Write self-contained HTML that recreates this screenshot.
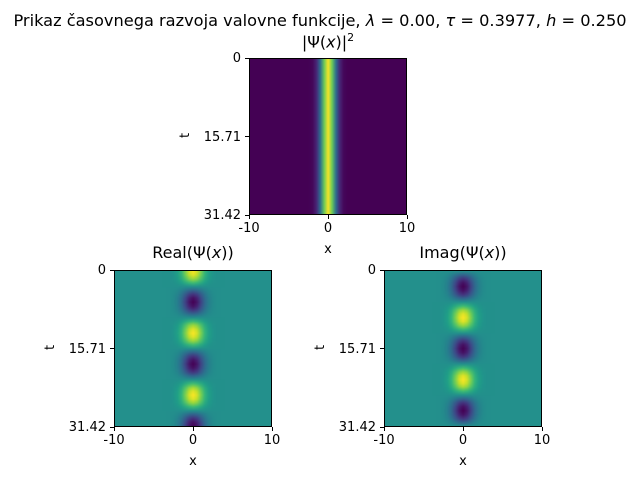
<!DOCTYPE html>
<html><head><meta charset="utf-8"><style>
body{margin:0;background:#fff;width:640px;height:480px;overflow:hidden;position:relative;font-family:"DejaVu Sans","Liberation Sans",sans-serif;color:#000}
.t{position:absolute;white-space:nowrap}
canvas{position:absolute;border:1px solid #000;box-sizing:border-box}
</style></head><body>
<div class="t" style="left:0;width:640px;text-align:center;top:11px;font-size:16.2px">Prikaz časovnega razvoja valovne funkcije, <i>λ</i> = 0.00, <i>τ</i> = 0.3977, <i>h</i> = 0.250</div>
<div id="root"></div>
<script>
// profile along x (x = -10..10 step 0.5)
const xs=[-10,-9.5,-9,-8.5,-8,-7.5,-7,-6.5,-6,-5.5,-5,-4.5,-4,-3.5,-3,-2.5,-2,-1.5,-1,-0.5,0,0.5,1,1.5,2,2.5,3,3.5,4,4.5,5,5.5,6,6.5,7,7.5,8,8.5,9,9.5,10];
const profile=[0,0,0,0,0,0,0,0,0,0,0,0,0,0.002,0.011,0.044,0.135,0.325,0.607,0.882,1,0.882,0.607,0.325,0.135,0.044,0.011,0.002,0,0,0,0,0,0,0,0,0,0,0,0,0];
// time amplitudes at t = k*pi/4, k=0..40
const realAmp=[1,.92,.71,.38,0,-.38,-.71,-.92,-1,-.92,-.71,-.38,0,.38,.71,.92,1,.92,.71,.38,0,-.38,-.71,-.92,-1,-.92,-.71,-.38,0,.38,.71,.92,1,.92,.71,.38,0,-.38,-.71,-.92,-1];
const imagAmp=[0,-.38,-.71,-.92,-1,-.92,-.71,-.38,0,.38,.71,.92,1,.92,.71,.38,0,-.38,-.71,-.92,-1,-.92,-.71,-.38,0,.38,.71,.92,1,.92,.71,.38,0,-.38,-.71,-.92,-1,-.92,-.71,-.38,0];
const xTicks=["-10","0","10"];
const tTicks=["0","15.71","31.42"];
const vir=[[68,1,84],[72,40,120],[62,74,137],[49,104,142],[38,130,142],[31,158,137],[53,183,121],[109,205,89],[180,222,44],[253,231,37]];
function cmap(v){v=Math.max(0,Math.min(1,v))*9;const i=Math.min(8,Math.floor(v)),f=v-i;return vir[i].map((c,k)=>Math.round(c+(vir[i+1][k]-c)*f));}
const root=document.getElementById('root');
function txt(name,s,css){const d=document.createElement('div');d.className='t';d.innerHTML=s;d.style.cssText=css;


root.appendChild(d);}
function panel(key,L,T,W,H,title,fn,vmin,vmax){
 const nR=realAmp.length,nC=xs.length;
 const src=document.createElement('canvas');src.width=nC;src.height=nR;
 const sc=src.getContext('2d');const im=sc.createImageData(nC,nR);
 for(let r=0;r<nR;r++)for(let c=0;c<nC;c++){const v=fn(r,c);const col=cmap((v-vmin)/(vmax-vmin));const p=(r*nC+c)*4;im.data[p]=col[0];im.data[p+1]=col[1];im.data[p+2]=col[2];im.data[p+3]=255;}
 sc.putImageData(im,0,0);
 const cv=document.createElement('canvas');cv.width=W;cv.height=H;cv.style.left=L+'px';cv.style.top=T+'px';cv.style.width=W+'px';cv.style.height=H+'px';
 
 
 const cx=cv.getContext('2d');cx.imageSmoothingEnabled=true;
 const sx=W/(nC-1),sy=H/(nR-1);
 cx.drawImage(src,0,0,nC,nR,-sx/2,-sy/2,W+sx,H+sy);
 root.appendChild(cv);
 txt(key+'-title',title,`left:${L-40}px;width:${W+80}px;text-align:center;top:${T-27}px;font-size:16px`);
 xTicks.forEach((s,i)=>{const x=L+i*W/2;
  const tk=document.createElement('div');tk.style.cssText=`position:absolute;left:${x-0.5}px;top:${T+H}px;width:1px;height:4px;background:#000`;
  
  
  root.appendChild(tk);
  txt(key+'-x-tick-label',s,`left:${x-20}px;width:40px;text-align:center;top:${T+H+6}px;font-size:13px`);});
 tTicks.forEach((s,i)=>{const y=T+i*H/2;
  const tk=document.createElement('div');tk.style.cssText=`position:absolute;left:${L-4}px;top:${y-0.5}px;width:4px;height:1px;background:#000`;
  
  
  root.appendChild(tk);
  txt(key+'-t-tick-label',s,`left:${L-66}px;width:58px;text-align:right;top:${y-7}px;font-size:13px`);});
 txt(key+'-x-axis-title','x',`left:${L+W/2-10}px;width:20px;text-align:center;top:${T+H+27}px;font-size:13px`);
 txt(key+'-t-axis-title','t',`left:${L-66}px;top:${T+H/2-9}px;font-size:13px;transform:rotate(-90deg)`);
}
panel('prob',249,58,158,157,'|Ψ(<i>x</i>)|<sup style="font-size:11px">2</sup>',(r,c)=>profile[c]*profile[c],0,1);
panel('real',114,270,158,157,'Real(Ψ(<i>x</i>))',(r,c)=>realAmp[r]*profile[c],-1,1);
panel('imag',384,270,158,157,'Imag(Ψ(<i>x</i>))',(r,c)=>imagAmp[r]*profile[c],-1,1);
</script>
</body></html>
